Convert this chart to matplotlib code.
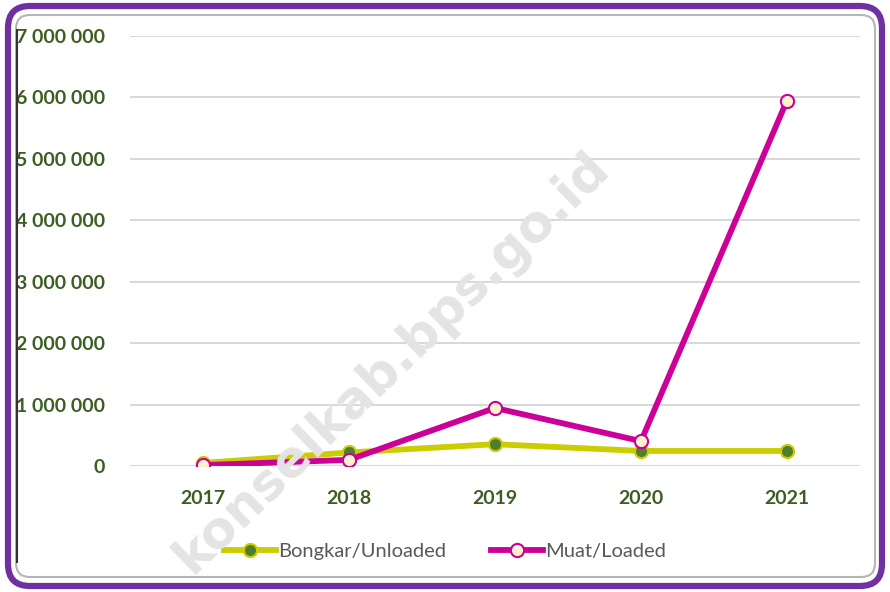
import matplotlib.pyplot as plt
from matplotlib.patches import FancyBboxPatch
from matplotlib.ticker import FuncFormatter

# Data
years    = ["2017", "2018", "2019", "2020", "2021"]
bongkar  = [50000, 220000, 355000, 245000, 245000]     # Bongkar/Unloaded
muat     = [15000, 100000, 945000, 405000, 5950000]    # Muat/Loaded
y_ticks  = [0, 1000000, 2000000, 3000000, 4000000, 5000000, 6000000, 7000000]

# Colours
purple   = "#7030A0"
green_tx = "#3B5E22"
yellow   = "#CCCC00"
dkgreen  = "#4F7F2E"
magenta  = "#CC0099"
cream    = "#FFF2CC"

plt.rcParams["font.family"] = ["Lato", "DejaVu Sans"]

fig = plt.figure(figsize=(8.9, 5.92), dpi=100)
ax = fig.add_axes([130/890, 1 - 466/592, 730/890, 430/592])

x = list(range(len(years)))

ax.plot(x, bongkar, color=yellow, lw=4.2, marker="o", ms=9.5,
        mfc=dkgreen, mec=yellow, mew=1.5, label="Bongkar/Unloaded", zorder=3)
ax.plot(x, muat, color=magenta, lw=4.2, marker="o", ms=9.5,
        mfc=cream, mec=magenta, mew=1.5, label="Muat/Loaded", zorder=4)

ax.set_xlim(-0.5, len(years) - 0.5)
ax.set_ylim(0, 7000000)
ax.set_xticks(x)
ax.set_xticklabels(years)
ax.set_yticks(y_ticks)
ax.yaxis.set_major_formatter(FuncFormatter(lambda v, p: f"{int(v):,}".replace(",", " ")))

ax.grid(axis="y", color="#D9D9D9", lw=1.5)
ax.set_axisbelow(True)
for s in ax.spines.values():
    s.set_visible(False)
ax.tick_params(length=0)
ax.tick_params(axis="y", pad=18, labelsize=14, labelcolor=green_tx)
ax.tick_params(axis="x", pad=17, labelsize=14, labelcolor=green_tx)
for lbl in ax.get_xticklabels() + ax.get_yticklabels():
    lbl.set_fontweight("bold")

leg = ax.legend(loc="center", bbox_to_anchor=(0.5, 1 - 551/592), bbox_transform=fig.transFigure,
                ncol=2, frameon=False, fontsize=14.5, handlelength=2.6, columnspacing=2.2,
                handletextpad=0.1)
for t in leg.get_texts():
    t.set_color("#595959")

# watermark
fig.text(392/890, 1 - 362/592, "konselkab.bps.go.id", rotation=44, fontsize=37,
         fontweight="bold", color="#E4E4E4", ha="center", va="center",
         family="DejaVu Sans", zorder=2)

# frame: outer purple rounded border + inner grey one
W, H = 8.9, 5.92
outer = FancyBboxPatch((0.08, 0.06), W - 0.16, H - 0.12,
                       boxstyle="round,pad=0,rounding_size=0.22",
                       transform=fig.dpi_scale_trans, fill=False,
                       ec=purple, lw=4.5)
inner = FancyBboxPatch((0.16, 0.15), W - 0.31, H - 0.3,
                       boxstyle="round,pad=0,rounding_size=0.14",
                       transform=fig.dpi_scale_trans, fill=False,
                       ec="#B5B5B5", lw=1.5)
fig.patches.extend([outer, inner])
fig.lines.append(plt.Line2D([0.17, 0.17], [0.3, H - 0.3], transform=fig.dpi_scale_trans,
                            color="#333333", lw=1.5))

fig.savefig("out.png", dpi=100)
